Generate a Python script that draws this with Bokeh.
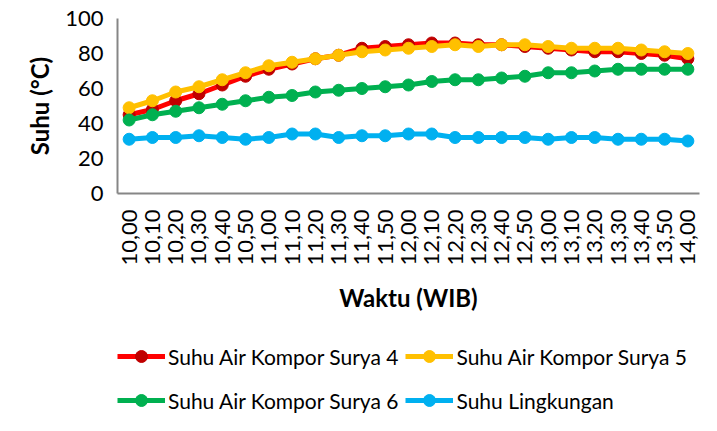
import math
from bokeh.plotting import figure
from bokeh.layouts import column
from bokeh.models import FactorRange, Range1d, Legend, LegendItem, FixedTicker
from bokeh.embed import file_html
from bokeh.resources import INLINE

times = ["10,00", "10,10", "10,20", "10,30", "10,40", "10,50",
         "11,00", "11,10", "11,20", "11,30", "11,40", "11,50",
         "12,00", "12,10", "12,20", "12,30", "12,40", "12,50",
         "13,00", "13,10", "13,20", "13,30", "13,40", "13,50", "14,00"]

surya4 = [45, 48, 53, 57, 62, 67, 71, 74, 77, 79, 83, 84, 85, 86, 86, 85, 85, 84, 83, 82, 81, 81, 80, 79, 77]
surya5 = [49, 53, 58, 61, 65, 69, 73, 75, 77, 79, 81, 82, 83, 84, 85, 84, 85, 85, 84, 83, 83, 83, 82, 81, 80]
surya6 = [42, 45, 47, 49, 51, 53, 55, 56, 58, 59, 60, 61, 62, 64, 65, 65, 66, 67, 69, 69, 70, 71, 71, 71, 71]
lingkungan = [31, 32, 32, 33, 32, 31, 32, 34, 34, 32, 33, 33, 34, 34, 32, 32, 32, 32, 31, 32, 32, 31, 31, 31, 30]

labels = ["Suhu Air Kompor Surya 4", "Suhu Air Kompor Surya 5",
          "Suhu Air Kompor Surya 6", "Suhu Lingkungan"]
series = [surya4, surya5, surya6, lingkungan]
line_colors = ["#FF0000", "#FFC000", "#00B050", "#00B0F0"]
marker_colors = ["#C00000", "#FFC000", "#00B050", "#00B0F0"]

FONT = "Lato"

# ---- main chart ----
p = figure(width=701, height=320, output_backend="svg", toolbar_location=None,
           x_range=FactorRange(*times, range_padding=0), y_range=Range1d(0, 100),
           min_border_left=117, min_border_right=2, min_border_top=18,
           min_border_bottom=127)
p.outline_line_color = None
p.grid.grid_line_color = None

for vals, lc, mc in zip(series, line_colors, marker_colors):
    p.line(times, vals, line_color=lc, line_width=5)
    p.scatter(times, vals, size=12, fill_color=mc, line_color=mc)

for ax in (p.xaxis[0], p.yaxis[0]):
    ax.axis_line_color = "#868686"
    ax.axis_line_width = 2
    ax.major_tick_out = 0
    ax.major_tick_in = 0
    ax.minor_tick_out = 0
    ax.minor_tick_in = 0
    ax.major_label_text_font = FONT
    ax.major_label_text_font_size = "22px"
    ax.major_label_text_color = "#000000"
    ax.axis_label_text_font = FONT
    ax.axis_label_text_font_size = "24px"
    ax.axis_label_text_font_style = "bold"
    ax.axis_label_text_color = "#000000"

p.yaxis.ticker = FixedTicker(ticks=[0, 20, 40, 60, 80, 100])
p.yaxis.major_label_standoff = 14
p.yaxis.axis_label = "Suhu (°C)"
p.yaxis.axis_label_standoff = 8

p.xaxis.major_label_orientation = math.pi / 2
p.xaxis.major_label_standoff = 16
p.xaxis.axis_label = "Waktu (WIB)"
p.xaxis.axis_label_standoff = 14

# ---- legend strip ----
lf = figure(width=701, height=95, output_backend="svg", toolbar_location=None,
            x_range=Range1d(0, 1), y_range=Range1d(0, 1),
            x_axis_location=None, y_axis_location=None,
            min_border_left=0, min_border_right=0, min_border_top=0,
            min_border_bottom=0)
lf.outline_line_color = None
lf.grid.grid_line_color = None

# legend carriers: points lie outside the visible range, only the legend shows them
off_x = [-10, -9]
off_y = [-10, -10]
items = []
for lab, lc, mc in zip(labels, line_colors, marker_colors):
    lr = lf.line(x=off_x, y=off_y, line_color=lc, line_width=5)
    sr = lf.scatter(x=off_x, y=off_y, size=12, fill_color=mc, line_color=mc)
    items.append(LegendItem(label=lab, renderers=[lr, sr]))

def make_legend(its, loc):
    return Legend(items=its, location=loc, orientation="horizontal",
                  glyph_width=48, glyph_height=30, label_height=30,
                  label_standoff=3, spacing=7, padding=0, margin=0,
                  border_line_alpha=0, background_fill_alpha=0,
                  label_text_font=FONT, label_text_font_size="21px",
                  label_text_color="#000000")

lf.add_layout(make_legend(items[:2], (0, 44)))
lf.add_layout(make_legend(items[2:], (0, 0)))

layout = column(p, lf, spacing=0)
open("out.html", "w").write(file_html(layout, INLINE))
